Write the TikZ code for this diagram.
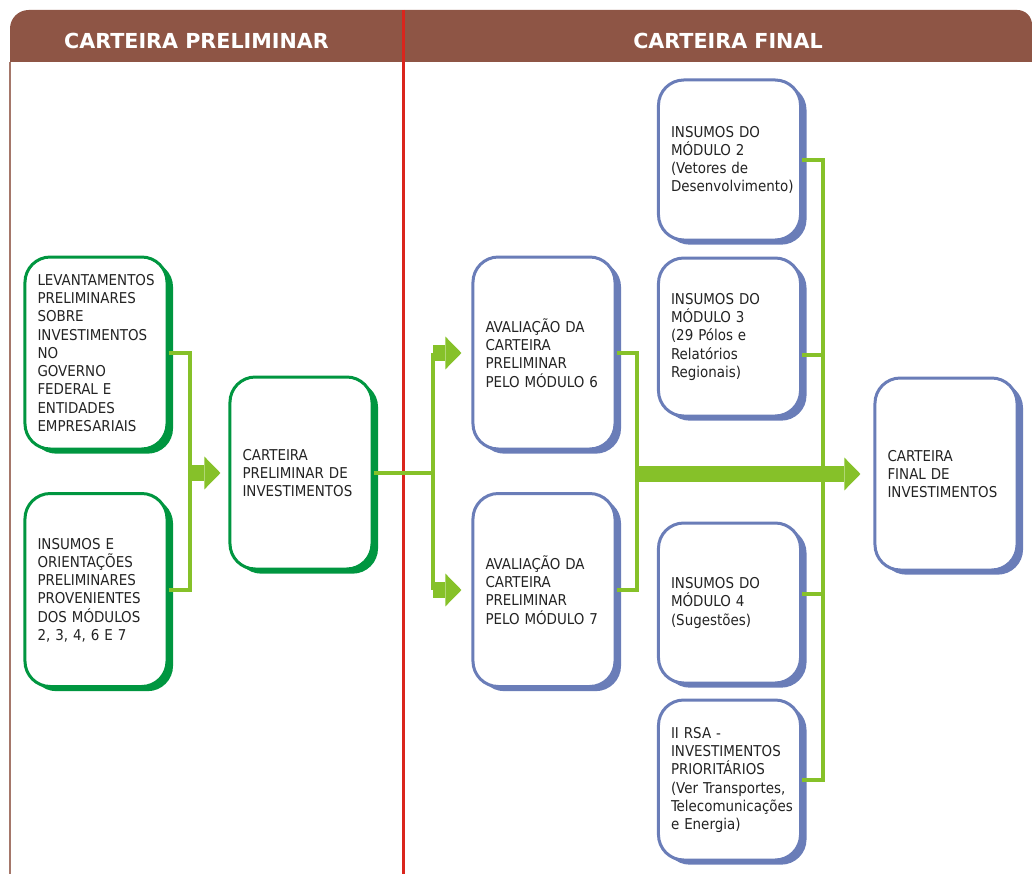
\documentclass[tikz,border=0pt]{standalone}
\usepackage{fontspec}
\setmainfont{DejaVu Sans}
\newfontfamily\condfont{DejaVu Sans Condensed}
\usetikzlibrary{arrows.meta,shadows}
\definecolor{dkgreen}{RGB}{0,150,64}
\definecolor{linkgreen}{RGB}{134,193,41}
\definecolor{boxblue}{RGB}{106,125,184}
\definecolor{headbrown}{RGB}{142,85,69}
\definecolor{redline}{RGB}{218,37,29}
\definecolor{textgray}{RGB}{35,35,35}
\tikzset{BigArrow/.style={draw=linkgreen, line width=12pt,
                          -{Triangle[length=12pt, width=24.5pt, line width=0pt]}}}

\begin{document}
\begin{tikzpicture}[x=0.75pt, y=-0.75pt,
                    box/.style = {rectangle, rounded corners = 19pt, line width = 2.25pt, fill = white,
                                  minimum width = 106.5pt, text width = 87.75pt, inner xsep = 9.4pt,
                                  align = left, text = textgray,
                                  font = \condfont\fontsize{11.2}{13.7}\selectfont},
                    green_box/.style = {box, draw = dkgreen,
                                        drop shadow = {shadow xshift = 4.5pt, shadow yshift = -3.5pt,
                                                       opacity = 1, fill = dkgreen}},
                    blue_box/.style = {box, draw = boxblue,
                                       drop shadow = {shadow xshift = 4.5pt, shadow yshift = -3.5pt,
                                                      opacity = 1, fill = boxblue}},
                    link/.style = {draw = linkgreen, line width = 3pt},
                    head_text/.style = {text = white, font = \bfseries\fontsize{15.5}{18}\selectfont}]
    \useasboundingbox (0,0) rectangle (1032,874);
    %header bar
    \fill[headbrown] (10,62) [rounded corners = 14pt] -- (10,10) [rounded corners = 11pt] -- (1032,10)
        [sharp corners] -- (1032,62) -- cycle;
    \draw[color = headbrown!80, line width = 1.1pt] (10,62) -- (10,874);
    \node[head_text] (hpre) at (196.5,41) {CARTEIRA PRELIMINAR};
    \node[head_text] (hfin) at (728,41) {CARTEIRA FINAL};
    %divider
    \draw[color = redline, line width = 2.25pt] (403,10) -- (403,874);
    %preliminary portfolio
    \node[green_box, minimum height = 144pt] (lev) at (96,353)
        {LEVANTAMENTOS\\PRELIMINARES\\SOBRE\\INVESTIMENTOS\\NO\\GOVERNO\\FEDERAL E\\ENTIDADES\\EMPRESARIAIS};
    \node[green_box, minimum height = 144.75pt] (ins) at (96,590)
        {INSUMOS E\\ORIENTAÇÕES\\PRELIMINARES\\PROVENIENTES\\DOS MÓDULOS\\2, 3, 4, 6 E 7};
    \node[green_box, minimum height = 144pt] (cpi) at (301,473)
        {CARTEIRA\\PRELIMINAR DE\\INVESTIMENTOS};
    %evaluation
    \node[blue_box, minimum height = 144pt] (av6) at (544,353)
        {AVALIAÇÃO DA\\CARTEIRA\\PRELIMINAR\\PELO MÓDULO 6};
    \node[blue_box, minimum height = 144.75pt] (av7) at (544,590)
        {AVALIAÇÃO DA\\CARTEIRA\\PRELIMINAR\\PELO MÓDULO 7};
    %inputs
    \node[blue_box, minimum height = 120pt] (ins2) at (729.5,160)
        {INSUMOS DO\\MÓDULO 2\\(Vetores de\\Desenvolvimento)};
    \node[blue_box, minimum height = 118.5pt] (ins3) at (729.5,337)
        {INSUMOS DO\\MÓDULO 3\\(29 Pólos e\\Relatórios\\Regionais)};
    \node[blue_box, minimum height = 120pt] (ins4) at (729.5,603)
        {INSUMOS DO\\MÓDULO 4\\(Sugestões)};
    \node[blue_box, minimum height = 120pt] (rsa) at (729.5,780)
        {II RSA -\\INVESTIMENTOS\\PRIORITÁRIOS\\(Ver Transportes,\\Telecomunicações\\e Energia)};
    %final portfolio
    \node[blue_box, minimum height = 144pt] (fin) at (946,474)
        {CARTEIRA\\FINAL DE\\INVESTIMENTOS};
    %connectors
    \coordinate (jl) at (190,0);
    \coordinate (jm) at (433,0);
    \coordinate (jr) at (637,0);
    \coordinate (jv) at (823,0);
    \draw[link] (lev.east) -- (lev.east -| jl) -- (ins.east -| jl) -- (ins.east);
    \draw[BigArrow] (jl |- cpi.west) -- ([xshift = -6pt]cpi.west);
    \draw[link] (cpi.east) -- (cpi.east -| jm);
    \draw[link] (jm |- av6.west) -- (jm |- av7.west);
    \draw[BigArrow] (jm |- av6.west) -- ([xshift = -7.5pt]av6.west);
    \draw[BigArrow] (jm |- av7.west) -- ([xshift = -7.5pt]av7.west);
    \draw[link] (av6.east) -- (av6.east -| jr) -- (av7.east -| jr) -- (av7.east);
    \draw[BigArrow] (jr |- fin.west) -- ([xshift = -9.75pt]fin.west);
    \draw[link] (ins2.east) -- (ins2.east -| jv) -- (rsa.east -| jv) -- (rsa.east);
    \draw[link] ([yshift = -13.5pt]ins3.east) -- ++(22,0);
    \draw[link] ([yshift = 6.75pt]ins4.east) -- ++(22,0);
\end{tikzpicture}
\end{document}
